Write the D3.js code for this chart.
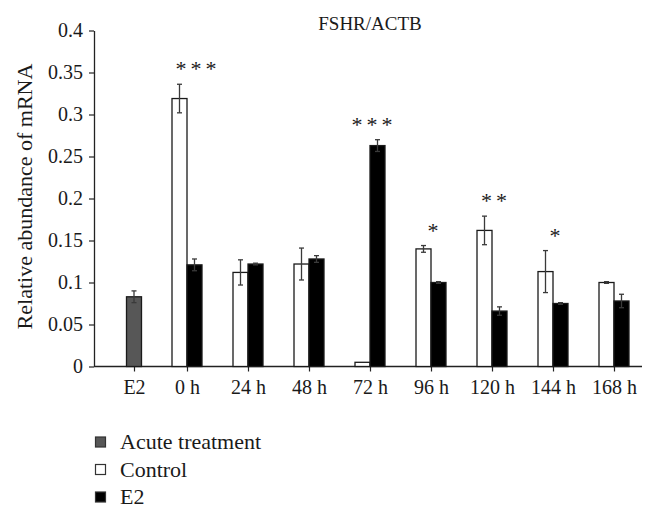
<!DOCTYPE html>
<html>
<head>
<meta charset="utf-8">
<script src="https://cdn.jsdelivr.net/npm/d3@7"></script>
<style>
  html, body { margin: 0; padding: 0; background: #fff; }
  svg { display: block; }
  text { font-family: "Liberation Serif", "DejaVu Serif", serif; fill: #1a1a1a; }
</style>
</head>
<body>
<svg id="chart" width="656" height="517"></svg>
<script>
// ---- data ----
const title = "FSHR/ACTB";
const yLabel = "Relative abundance of mRNA";
const categories = ["E2", "0 h", "24 h", "48 h", "72 h", "96 h", "120 h", "144 h", "168 h"];
const timeCategories = ["0 h", "24 h", "48 h", "72 h", "96 h", "120 h", "144 h", "168 h"];
const acuteValues = [0.083];
const acuteErrors = [0.007];
const controlValues = [0.319, 0.112, 0.122, 0.005, 0.140, 0.162, 0.113, 0.100];
const controlErrors = [0.017, 0.015, 0.019, 0, 0.004, 0.017, 0.025, 0.001];
const e2Values = [0.121, 0.122, 0.128, 0.263, 0.100, 0.066, 0.075, 0.078];
const e2Errors = [0.007, 0.001, 0.004, 0.007, 0.001, 0.005, 0.001, 0.008];
const sigLabels = ["***", "", "", "***", "*", "**", "*", ""];
const yTicks = [0, 0.05, 0.1, 0.15, 0.2, 0.25, 0.3, 0.35, 0.4];
const legendLabels = ["Acute treatment", "Control", "E2"];

// ---- layout ----
const svg = d3.select("#chart");
const axisLeftX = 94, axisRightX = 642;
const y = d3.scaleLinear().domain([0, 0.4]).range([366.5, 30.5]);
const xTime = d3.scalePoint().domain(timeCategories).range([187, 614]);
const e2Gap = 53;
const x = d3.scaleOrdinal()
  .domain(categories)
  .range([xTime(timeCategories[0]) - e2Gap, ...timeCategories.map(c => xTime(c))]);
const barW = 15;
const colors = { acute: "#575757", control: "#ffffff", e2: "#000000" };
const errColor = "#3a3a3a";

// title
svg.append("text").attr("x", 370).attr("y", 30)
  .attr("text-anchor", "middle").attr("font-size", 19).text(title);

// y axis
const yAxis = svg.append("g").attr("transform", `translate(${axisLeftX},0)`)
  .call(d3.axisLeft(y).tickValues(yTicks).tickSize(5).tickSizeOuter(0)
    .tickFormat(d => d === 0 ? "0" : String(+d.toFixed(2))));
yAxis.select(".domain").attr("stroke", "#222").attr("stroke-width", 1.3);
yAxis.selectAll(".tick line").attr("stroke", "#222").attr("stroke-width", 1.2);
yAxis.selectAll(".tick text").attr("font-size", 20).attr("x", -11)
  .attr("fill", "#1a1a1a");

// y label
svg.append("text")
  .attr("transform", `translate(32,${(y(0) + y(0.4)) / 2 - 2}) rotate(-90)`)
  .attr("text-anchor", "middle").attr("font-size", 22).text(yLabel);

// x axis
const xAxis = svg.append("g").attr("transform", `translate(0,${y(0)})`)
  .call(d3.axisBottom(x).tickSize(5).tickSizeOuter(0));
xAxis.select(".domain").attr("d", `M${axisLeftX},0H${axisRightX}`)
  .attr("stroke", "#222").attr("stroke-width", 1.3);
xAxis.selectAll(".tick line").attr("stroke", "#222").attr("stroke-width", 1.2);
xAxis.selectAll(".tick text").attr("font-size", 20).attr("dy", "0.95em")
  .attr("fill", "#1a1a1a");

// bars
function drawBars(cls, cats, vals, errs, offset, fill) {
  const g = svg.append("g").attr("class", cls);
  const data = cats.map((c, i) => ({ c, v: vals[i], e: errs[i] }));
  g.selectAll("rect").data(data).join("rect")
    .attr("x", d => x(d.c) + offset)
    .attr("y", d => y(d.v))
    .attr("width", barW)
    .attr("height", d => y(0) - y(d.v))
    .attr("fill", fill)
    .attr("stroke", "#1a1a1a").attr("stroke-width", 1.3);
  const eb = g.selectAll("g.err").data(data.filter(d => d.e > 0)).join("g").attr("class", "err")
    .attr("stroke", errColor).attr("stroke-width", 1.3);
  eb.append("line")
    .attr("x1", d => x(d.c) + offset + barW / 2).attr("x2", d => x(d.c) + offset + barW / 2)
    .attr("y1", d => y(d.v + d.e)).attr("y2", d => y(d.v - d.e));
  eb.append("line")
    .attr("x1", d => x(d.c) + offset + barW / 2 - 2.5).attr("x2", d => x(d.c) + offset + barW / 2 + 2.5)
    .attr("y1", d => y(d.v + d.e)).attr("y2", d => y(d.v + d.e));
  eb.append("line")
    .attr("x1", d => x(d.c) + offset + barW / 2 - 2.5).attr("x2", d => x(d.c) + offset + barW / 2 + 2.5)
    .attr("y1", d => y(d.v - d.e)).attr("y2", d => y(d.v - d.e));
}
drawBars("acute", ["E2"], acuteValues, acuteErrors, -barW / 2, colors.acute);
drawBars("control", timeCategories, controlValues, controlErrors, -barW, colors.control);
drawBars("e2", timeCategories, e2Values, e2Errors, 0, colors.e2);

// significance
svg.append("g").selectAll("text")
  .data(timeCategories.map((c, i) => ({ c, s: sigLabels[i],
    top: Math.max(controlValues[i] + controlErrors[i], e2Values[i] + e2Errors[i]) })))
  .join("text")
  .attr("x", d => x(d.c) + (d.c === "0 h" ? 11 : 4))
  .attr("y", d => y(d.top) - 8)
  .attr("text-anchor", "middle").attr("font-size", 22).attr("fill", "#333")
  .attr("letter-spacing", 4)
  .text(d => d.s);

// legend
const legendColors = [colors.acute, colors.control, colors.e2];
const lg = svg.append("g").attr("transform", "translate(95,442)");
legendLabels.forEach((lab, i) => {
  const row = lg.append("g").attr("transform", `translate(0,${i * 27.5})`);
  row.append("rect").attr("x", 0.5).attr("y", -5).attr("width", 10).attr("height", 10)
    .attr("fill", legendColors[i]).attr("stroke", "#333").attr("stroke-width", 1.2);
  row.append("text").attr("x", 25).attr("y", 7).attr("font-size", 22).text(lab);
});
</script>
</body>
</html>
